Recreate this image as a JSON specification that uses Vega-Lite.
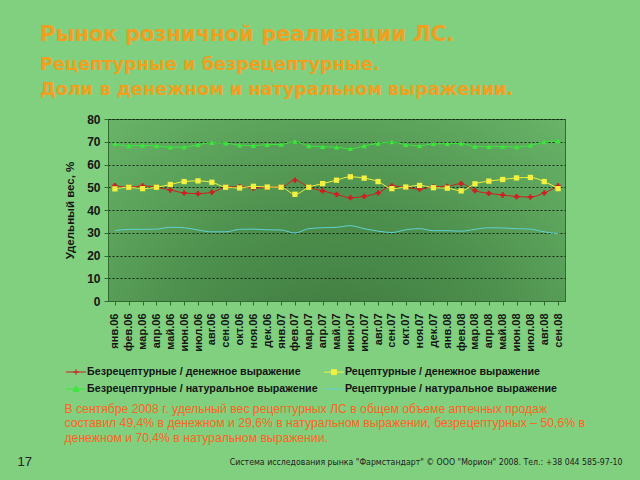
{
  "$schema": "https://vega.github.io/schema/vega-lite/v6.json",
  "width": 457,
  "height": 182,
  "autosize": {"type": "none"},
  "padding": {"left": 108, "top": 119, "right": 75, "bottom": 179},
  "background": "#80d080",
  "view": {
    "stroke": "#2f6a2f",
    "strokeWidth": 1,
    "fill": {
      "gradient": "radial",
      "x1": 0.5, "y1": 0.9, "r1": 0,
      "x2": 0.5, "y2": 0.9, "r2": 0.8,
      "stops": [
        {"offset": 0, "color": "#3a743a"},
        {"offset": 0.5, "color": "#4d8f4d"},
        {"offset": 1, "color": "#6ab66a"}
      ]
    }
  },
  "config": {
    "font": "Liberation Sans"
  },
  "title": {
    "text": "Рынок розничной реализации ЛС.",
    "subtitle": ["Рецептурные и безрецептурные.", "Доли в денежном и натуральном выражении."],
    "anchor": "start",
    "frame": "group",
    "dx": -68,
    "offset": 14,
    "font": "DejaVu Sans",
    "fontSize": 21,
    "fontWeight": "bold",
    "color": "#f0a020",
    "subtitleFont": "DejaVu Sans",
    "subtitleFontSize": 17.7,
    "subtitleFontWeight": "bold",
    "subtitleColor": "#f0a020",
    "subtitleLineHeight": 25,
    "subtitlePadding": 11
  },
  "data": {
    "values": [
      {"m": "янв.06", "s": "Безрецептурные / денежное выражение", "v": 50.7},
      {"m": "фев.06", "s": "Безрецептурные / денежное выражение", "v": 50.0},
      {"m": "мар.06", "s": "Безрецептурные / денежное выражение", "v": 50.6},
      {"m": "апр.06", "s": "Безрецептурные / денежное выражение", "v": 50.0},
      {"m": "май.06", "s": "Безрецептурные / денежное выражение", "v": 48.8},
      {"m": "июн.06", "s": "Безрецептурные / денежное выражение", "v": 47.5},
      {"m": "июл.06", "s": "Безрецептурные / денежное выражение", "v": 47.2},
      {"m": "авг.06", "s": "Безрецептурные / денежное выражение", "v": 47.8},
      {"m": "сен.06", "s": "Безрецептурные / денежное выражение", "v": 50.0},
      {"m": "окт.06", "s": "Безрецептурные / денежное выражение", "v": 50.3},
      {"m": "ноя.06", "s": "Безрецептурные / денежное выражение", "v": 49.6},
      {"m": "дек.06", "s": "Безрецептурные / денежное выражение", "v": 49.9},
      {"m": "янв.07", "s": "Безрецептурные / денежное выражение", "v": 50.0},
      {"m": "фев.07", "s": "Безрецептурные / денежное выражение", "v": 53.1},
      {"m": "мар.07", "s": "Безрецептурные / денежное выражение", "v": 50.0},
      {"m": "апр.07", "s": "Безрецептурные / денежное выражение", "v": 48.4},
      {"m": "май.07", "s": "Безрецептурные / денежное выражение", "v": 46.9},
      {"m": "июн.07", "s": "Безрецептурные / денежное выражение", "v": 45.4},
      {"m": "июл.07", "s": "Безрецептурные / денежное выражение", "v": 46.0},
      {"m": "авг.07", "s": "Безрецептурные / денежное выражение", "v": 47.5},
      {"m": "сен.07", "s": "Безрецептурные / денежное выражение", "v": 50.6},
      {"m": "окт.07", "s": "Безрецептурные / денежное выражение", "v": 49.9},
      {"m": "ноя.07", "s": "Безрецептурные / денежное выражение", "v": 49.2},
      {"m": "дек.07", "s": "Безрецептурные / денежное выражение", "v": 50.2},
      {"m": "янв.08", "s": "Безрецептурные / денежное выражение", "v": 50.4},
      {"m": "фев.08", "s": "Безрецептурные / денежное выражение", "v": 51.6},
      {"m": "мар.08", "s": "Безрецептурные / денежное выражение", "v": 48.5},
      {"m": "апр.08", "s": "Безрецептурные / денежное выражение", "v": 47.3},
      {"m": "май.08", "s": "Безрецептурные / денежное выражение", "v": 46.6},
      {"m": "июн.08", "s": "Безрецептурные / денежное выражение", "v": 45.9},
      {"m": "июл.08", "s": "Безрецептурные / денежное выражение", "v": 45.7},
      {"m": "авг.08", "s": "Безрецептурные / денежное выражение", "v": 47.5},
      {"m": "сен.08", "s": "Безрецептурные / денежное выражение", "v": 50.6},

      {"m": "янв.06", "s": "Рецептурные / денежное выражение", "v": 49.3},
      {"m": "фев.06", "s": "Рецептурные / денежное выражение", "v": 50.0},
      {"m": "мар.06", "s": "Рецептурные / денежное выражение", "v": 49.4},
      {"m": "апр.06", "s": "Рецептурные / денежное выражение", "v": 50.0},
      {"m": "май.06", "s": "Рецептурные / денежное выражение", "v": 51.2},
      {"m": "июн.06", "s": "Рецептурные / денежное выражение", "v": 52.5},
      {"m": "июл.06", "s": "Рецептурные / денежное выражение", "v": 52.8},
      {"m": "авг.06", "s": "Рецептурные / денежное выражение", "v": 52.2},
      {"m": "сен.06", "s": "Рецептурные / денежное выражение", "v": 50.0},
      {"m": "окт.06", "s": "Рецептурные / денежное выражение", "v": 49.7},
      {"m": "ноя.06", "s": "Рецептурные / денежное выражение", "v": 50.4},
      {"m": "дек.06", "s": "Рецептурные / денежное выражение", "v": 50.1},
      {"m": "янв.07", "s": "Рецептурные / денежное выражение", "v": 50.0},
      {"m": "фев.07", "s": "Рецептурные / денежное выражение", "v": 46.9},
      {"m": "мар.07", "s": "Рецептурные / денежное выражение", "v": 50.0},
      {"m": "апр.07", "s": "Рецептурные / денежное выражение", "v": 51.6},
      {"m": "май.07", "s": "Рецептурные / денежное выражение", "v": 53.1},
      {"m": "июн.07", "s": "Рецептурные / денежное выражение", "v": 54.6},
      {"m": "июл.07", "s": "Рецептурные / денежное выражение", "v": 54.0},
      {"m": "авг.07", "s": "Рецептурные / денежное выражение", "v": 52.5},
      {"m": "сен.07", "s": "Рецептурные / денежное выражение", "v": 49.4},
      {"m": "окт.07", "s": "Рецептурные / денежное выражение", "v": 50.1},
      {"m": "ноя.07", "s": "Рецептурные / денежное выражение", "v": 50.8},
      {"m": "дек.07", "s": "Рецептурные / денежное выражение", "v": 49.8},
      {"m": "янв.08", "s": "Рецептурные / денежное выражение", "v": 49.6},
      {"m": "фев.08", "s": "Рецептурные / денежное выражение", "v": 48.4},
      {"m": "мар.08", "s": "Рецептурные / денежное выражение", "v": 51.5},
      {"m": "апр.08", "s": "Рецептурные / денежное выражение", "v": 52.7},
      {"m": "май.08", "s": "Рецептурные / денежное выражение", "v": 53.4},
      {"m": "июн.08", "s": "Рецептурные / денежное выражение", "v": 54.1},
      {"m": "июл.08", "s": "Рецептурные / денежное выражение", "v": 54.3},
      {"m": "авг.08", "s": "Рецептурные / денежное выражение", "v": 52.5},
      {"m": "сен.08", "s": "Рецептурные / денежное выражение", "v": 49.4},

      {"m": "янв.06", "s": "Безрецептурные / натуральное выражение", "v": 69.1},
      {"m": "фев.06", "s": "Безрецептурные / натуральное выражение", "v": 68.2},
      {"m": "мар.06", "s": "Безрецептурные / натуральное выражение", "v": 68.4},
      {"m": "апр.06", "s": "Безрецептурные / натуральное выражение", "v": 68.2},
      {"m": "май.06", "s": "Безрецептурные / натуральное выражение", "v": 67.6},
      {"m": "июн.06", "s": "Безрецептурные / натуральное выражение", "v": 67.7},
      {"m": "июл.06", "s": "Безрецептурные / натуральное выражение", "v": 68.7},
      {"m": "авг.06", "s": "Безрецептурные / натуральное выражение", "v": 69.6},
      {"m": "сен.06", "s": "Безрецептурные / натуральное выражение", "v": 69.4},
      {"m": "окт.06", "s": "Безрецептурные / натуральное выражение", "v": 68.5},
      {"m": "ноя.06", "s": "Безрецептурные / натуральное выражение", "v": 68.3},
      {"m": "дек.06", "s": "Безрецептурные / натуральное выражение", "v": 68.7},
      {"m": "янв.07", "s": "Безрецептурные / натуральное выражение", "v": 68.8},
      {"m": "фев.07", "s": "Безрецептурные / натуральное выражение", "v": 70.1},
      {"m": "мар.07", "s": "Безрецептурные / натуральное выражение", "v": 68.2},
      {"m": "апр.07", "s": "Безрецептурные / натуральное выражение", "v": 67.8},
      {"m": "май.07", "s": "Безрецептурные / натуральное выражение", "v": 67.6},
      {"m": "июн.07", "s": "Безрецептурные / натуральное выражение", "v": 66.9},
      {"m": "июл.07", "s": "Безрецептурные / натуральное выражение", "v": 68.2},
      {"m": "авг.07", "s": "Безрецептурные / натуральное выражение", "v": 69.3},
      {"m": "сен.07", "s": "Безрецептурные / натуральное выражение", "v": 69.9},
      {"m": "окт.07", "s": "Безрецептурные / натуральное выражение", "v": 68.7},
      {"m": "ноя.07", "s": "Безрецептурные / натуральное выражение", "v": 68.2},
      {"m": "дек.07", "s": "Безрецептурные / натуральное выражение", "v": 69.1},
      {"m": "янв.08", "s": "Безрецептурные / натуральное выражение", "v": 69.1},
      {"m": "фев.08", "s": "Безрецептурные / натуральное выражение", "v": 69.3},
      {"m": "мар.08", "s": "Безрецептурные / натуральное выражение", "v": 67.9},
      {"m": "апр.08", "s": "Безрецептурные / натуральное выражение", "v": 67.8},
      {"m": "май.08", "s": "Безрецептурные / натуральное выражение", "v": 67.9},
      {"m": "июн.08", "s": "Безрецептурные / натуральное выражение", "v": 67.7},
      {"m": "июл.08", "s": "Безрецептурные / натуральное выражение", "v": 68.4},
      {"m": "авг.08", "s": "Безрецептурные / натуральное выражение", "v": 69.9},
      {"m": "сен.08", "s": "Безрецептурные / натуральное выражение", "v": 70.4},

      {"m": "янв.06", "s": "Рецептурные / натуральное выражение", "v": 30.9},
      {"m": "фев.06", "s": "Рецептурные / натуральное выражение", "v": 31.5},
      {"m": "мар.06", "s": "Рецептурные / натуральное выражение", "v": 31.5},
      {"m": "апр.06", "s": "Рецептурные / натуральное выражение", "v": 31.6},
      {"m": "май.06", "s": "Рецептурные / натуральное выражение", "v": 32.4},
      {"m": "июн.06", "s": "Рецептурные / натуральное выражение", "v": 32.2},
      {"m": "июл.06", "s": "Рецептурные / натуральное выражение", "v": 31.2},
      {"m": "авг.06", "s": "Рецептурные / натуральное выражение", "v": 30.4},
      {"m": "сен.06", "s": "Рецептурные / натуральное выражение", "v": 30.4},
      {"m": "окт.06", "s": "Рецептурные / натуральное выражение", "v": 31.5},
      {"m": "ноя.06", "s": "Рецептурные / натуральное выражение", "v": 31.6},
      {"m": "дек.06", "s": "Рецептурные / натуральное выражение", "v": 31.3},
      {"m": "янв.07", "s": "Рецептурные / натуральное выражение", "v": 31.2},
      {"m": "фев.07", "s": "Рецептурные / натуральное выражение", "v": 29.9},
      {"m": "мар.07", "s": "Рецептурные / натуральное выражение", "v": 31.8},
      {"m": "апр.07", "s": "Рецептурные / натуральное выражение", "v": 32.2},
      {"m": "май.07", "s": "Рецептурные / натуральное выражение", "v": 32.4},
      {"m": "июн.07", "s": "Рецептурные / натуральное выражение", "v": 33.1},
      {"m": "июл.07", "s": "Рецептурные / натуральное выражение", "v": 31.8},
      {"m": "авг.07", "s": "Рецептурные / натуральное выражение", "v": 30.7},
      {"m": "сен.07", "s": "Рецептурные / натуральное выражение", "v": 30.1},
      {"m": "окт.07", "s": "Рецептурные / натуральное выражение", "v": 31.3},
      {"m": "ноя.07", "s": "Рецептурные / натуральное выражение", "v": 31.8},
      {"m": "дек.07", "s": "Рецептурные / натуральное выражение", "v": 30.9},
      {"m": "янв.08", "s": "Рецептурные / натуральное выражение", "v": 30.9},
      {"m": "фев.08", "s": "Рецептурные / натуральное выражение", "v": 30.7},
      {"m": "мар.08", "s": "Рецептурные / натуральное выражение", "v": 31.5},
      {"m": "апр.08", "s": "Рецептурные / натуральное выражение", "v": 32.2},
      {"m": "май.08", "s": "Рецептурные / натуральное выражение", "v": 32.1},
      {"m": "июн.08", "s": "Рецептурные / натуральное выражение", "v": 31.8},
      {"m": "июл.08", "s": "Рецептурные / натуральное выражение", "v": 31.6},
      {"m": "авг.08", "s": "Рецептурные / натуральное выражение", "v": 30.4},
      {"m": "сен.08", "s": "Рецептурные / натуральное выражение", "v": 29.6}
    ]
  },
  "encoding": {
    "x": {
      "field": "m",
      "type": "ordinal",
      "sort": null,
      "scale": {"type": "point", "padding": 0.5}
    },
    "y": {
      "field": "v",
      "type": "quantitative",
      "scale": {"domain": [0, 80], "nice": false, "zero": true}
    },
    "color": {
      "field": "s",
      "type": "nominal",
      "scale": {
        "domain": ["Безрецептурные / денежное выражение", "Рецептурные / денежное выражение", "Безрецептурные / натуральное выражение", "Рецептурные / натуральное выражение"],
        "range": ["#cc2020", "#f2f040", "#3ae83a", "#60d2d2"]
      }
    }
  },
  "resolve": {"axis": {"x": "independent", "y": "independent"}},
  "layer": [
    {
      "mark": {"type": "line", "interpolate": "monotone"},
      "encoding": {
        "x": {
          "field": "m",
          "type": "ordinal",
          "sort": null,
          "axis": {
            "title": ["В сентябре 2008 г. удельный вес рецептурных ЛС в общем объеме аптечных продаж", "составил 49,4% в денежном и 29,6% в натуральном выражении, безрецептурных – 50,6% в", "денежном и 70,4% в натуральном выражении."],
            "titleX": -44,
            "titleY": 101,
            "titleAlign": "left",
            "titleAnchor": "start",
            "titleBaseline": "top",
            "titleFont": "Liberation Sans",
            "titleFontSize": 12.2,
            "titleFontWeight": "normal",
            "titleColor": "#ff6420",
            "titleLineHeight": 14.5,
            "labelAngle": 270,
            "labelFont": "Liberation Sans",
            "labelFontSize": 11,
            "labelFontWeight": "bold",
            "labelColor": "#151515",
            "labelPadding": 8,
            "tickSize": 4,
            "tickColor": "#2f6a2f",
            "domainColor": "#2f6a2f",
            "grid": false
          }
        },
        "y": {
          "field": "v",
          "type": "quantitative",
          "axis": {
            "title": "Удельный вес, %",
            "values": [0, 10, 20, 30, 40, 50, 60, 70, 80],
            "grid": true,
            "gridColor": "#000000",
            "gridDash": [2, 2],
            "gridOpacity": 0.75,
            "labelFont": "Liberation Sans",
            "labelFontSize": 12,
            "labelFontWeight": "bold",
            "labelColor": "#151515",
            "labelPadding": 4,
            "tickSize": 4,
            "tickColor": "#2f6a2f",
            "domainColor": "#2f6a2f",
            "titleFont": "Liberation Sans",
            "titleFontSize": 11.5,
            "titleFontWeight": "bold",
            "titleColor": "#151515",
            "titlePadding": 11
          }
        },
        "color": {
          "field": "s",
          "type": "nominal",
          "legend": {
            "title": null,
            "orient": "none",
            "legendX": -40,
            "legendY": 245,
            "columns": 2,
            "direction": "horizontal",
            "padding": 0,
            "labelLimit": 400,
            "labelFont": "Liberation Sans",
            "labelFontSize": 10.7,
            "labelFontWeight": "bold",
            "labelColor": "#151515",
            "labelOffset": 3,
            "symbolSize": 225,
            "columnPadding": 4,
            "rowPadding": 4,
            "encode": {
              "symbols": {
                "update": {
                  "shape": {"signal": "datum.value === 'Безрецептурные / денежное выражение' ? 'M-1.33,0H1.33M0,-0.4V0.4M-0.4,0H0.4' : datum.value === 'Рецептурные / денежное выражение' ? 'M-1.33,0H1.33M-0.33,-0.33H0.33V0.33H-0.33Z' : datum.value === 'Безрецептурные / натуральное выражение' ? 'M-1.33,0H1.33M0,-0.4L0.4,0.3H-0.4Z' : 'M-1.33,0H1.33'"},
                  "fill": {"signal": "scale('color', datum.value)"},
                  "stroke": {"signal": "scale('color', datum.value)"},
                  "strokeWidth": {"signal": "datum.value === 'Рецептурные / натуральное выражение' ? 2 : 1.3"},
                  "opacity": {"value": 1}
                }
              }
            }
          }
        },
        "strokeWidth": {
          "field": "s",
          "type": "nominal",
          "scale": {
            "domain": ["Безрецептурные / денежное выражение", "Рецептурные / денежное выражение", "Безрецептурные / натуральное выражение", "Рецептурные / натуральное выражение"],
            "range": [1, 1, 1.2, 2]
          },
          "legend": null
        }
      }
    },
    {
      "transform": [{"filter": "datum.s !== 'Рецептурные / натуральное выражение'"}],
      "mark": {"type": "point", "filled": true, "opacity": 1, "size": 28},
      "encoding": {
        "x": {
          "field": "m",
          "type": "ordinal",
          "sort": null,
          "axis": {
            "orient": "top",
            "title": "17",
            "titleX": -91,
            "titleY": 342,
            "titleAlign": "left",
            "titleBaseline": "middle",
            "titleFont": "Liberation Sans",
            "titleFontSize": 13,
            "titleFontWeight": "normal",
            "titleColor": "#222222",
            "labels": false,
            "ticks": false,
            "domain": false,
            "grid": false
          }
        },
        "y": {
          "field": "v",
          "type": "quantitative",
          "axis": {
            "orient": "right",
            "title": "Система исследования рынка \"Фармстандарт\" © ООО \"Морион\" 2008. Тел.: +38 044 585-97-10",
            "titleAngle": 0,
            "titleX": 57,
            "titleY": 342,
            "titleAlign": "right",
            "titleBaseline": "middle",
            "titleFont": "DejaVu Sans Condensed, Liberation Sans",
            "titleFontSize": 8.7,
            "titleFontWeight": "normal",
            "titleColor": "#222222",
            "labels": false,
            "ticks": false,
            "domain": false,
            "grid": false
          }
        },
        "shape": {
          "field": "s",
          "type": "nominal",
          "scale": {
            "domain": ["Безрецептурные / денежное выражение", "Рецептурные / денежное выражение", "Безрецептурные / натуральное выражение"],
            "range": ["cross", "square", "triangle-up"]
          },
          "legend": null
        }
      }
    }
  ]
}
